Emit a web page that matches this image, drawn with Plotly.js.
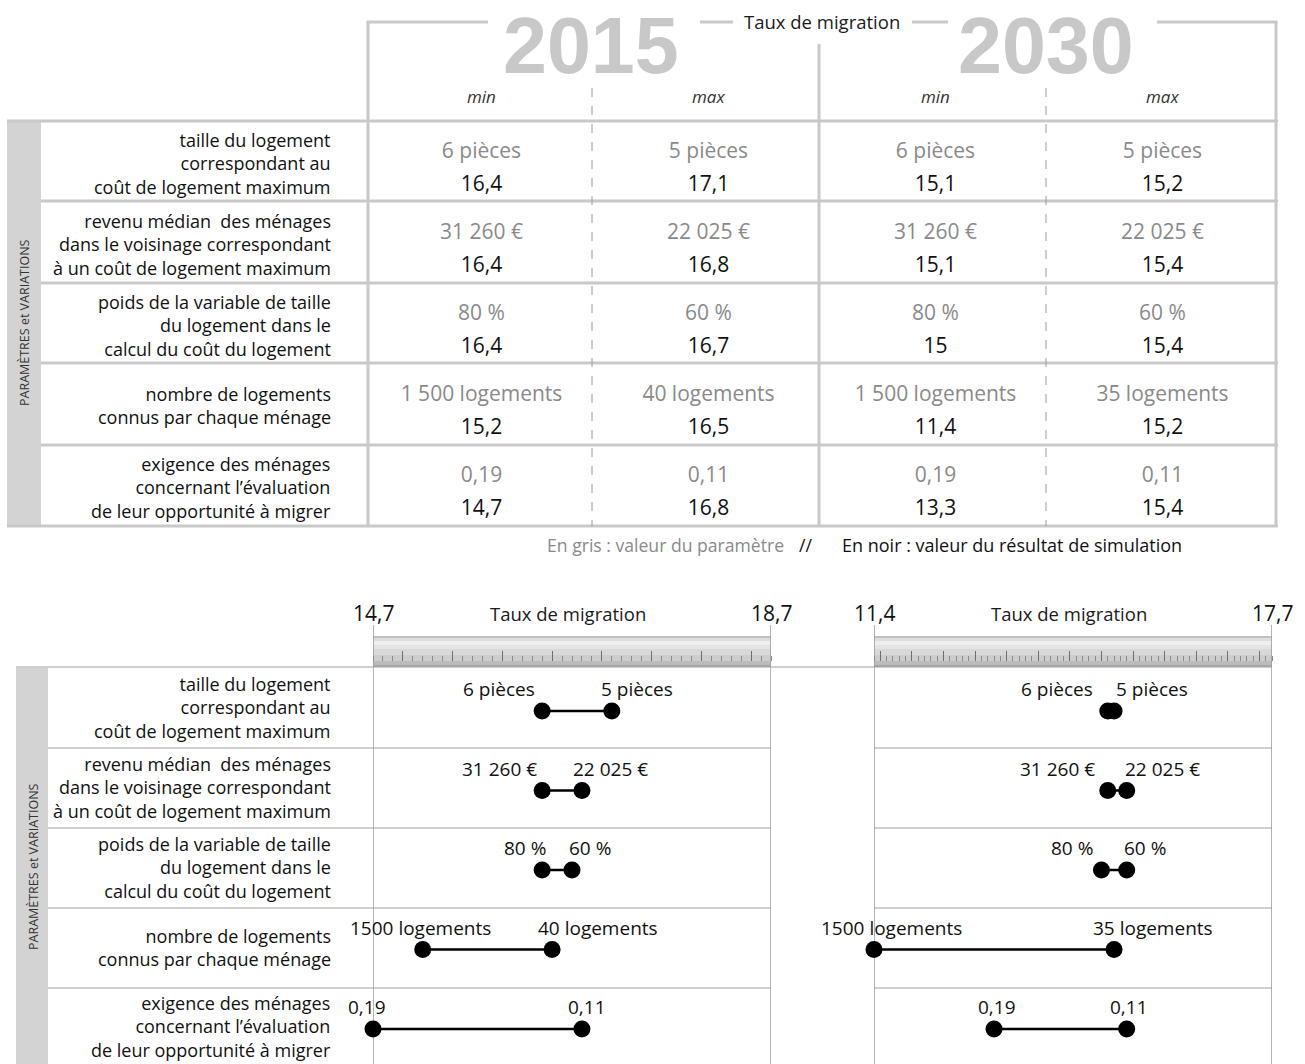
<!DOCTYPE html>
<html><head><meta charset="utf-8">
<script src="https://cdn.plot.ly/plotly-3.0.1.min.js"></script>
<style>html,body{margin:0;padding:0;background:#fff;}#chart{width:1305px;height:1064px;}</style>
</head><body><div id="chart"></div>
<script>
// ---------------- DATA ----------------
const parameters = [
  'taille du logement<br>correspondant au<br>coût de logement maximum',
  'revenu médian  des ménages<br>dans le voisinage correspondant<br>à un coût de logement maximum',
  'poids de la variable de taille<br>du logement dans le<br>calcul du coût du logement',
  'nombre de logements<br>connus par chaque ménage',
  'exigence des ménages<br>concernant l’évaluation<br>de leur opportunité à migrer'
];
const years = ['2015', '2030'];
const columnHeaders = ['min', 'max', 'min', 'max'];
const paramMin      = ['6 pièces', '31 260 €', '80 %', '1 500 logements', '0,19'];
const paramMax2015  = ['5 pièces', '22 025 €', '60 %', '40 logements', '0,11'];
const paramMax2030  = ['5 pièces', '22 025 €', '60 %', '35 logements', '0,11'];
const dotLabelMin     = ['6 pièces', '31 260 €', '80 %', '1500 logements', '0,19'];
const dotLabelMax2015 = ['5 pièces', '22 025 €', '60 %', '40 logements', '0,11'];
const dotLabelMax2030 = ['5 pièces', '22 025 €', '60 %', '35 logements', '0,11'];
const rate2015Min = [16.4, 16.4, 16.4, 15.2, 14.7];
const rate2015Max = [17.1, 16.8, 16.7, 16.5, 16.8];
const rate2030Min = [15.1, 15.1, 15, 11.4, 13.3];
const rate2030Max = [15.2, 15.4, 15.4, 15.2, 15.4];
const range2015 = [14.7, 18.7];
const range2030 = [11.4, 17.7];
const axisTitle = 'Taux de migration';
const sideTitle = 'PARAMÈTRES et VARIATIONS';
const legendGray = 'En gris : valeur du paramètre';
const legendSep = '//';
const legendBlack = 'En noir : valeur du résultat de simulation';

// ---------------- STYLE ----------------
const W = 1305, H = 1064;
const FONT = 'Open Sans, sans-serif';
const GRID = '#c9c9c9';
const GRAYTXT = '#8a8a8a';
const BAR = '#d3d3d3';
const LABEL = '#111';
const px = x => x / W;
const py = y => 1 - y / H;
const fmt = v => String(v).replace('.', ',');
// label offsets (pixels) for the dumbbell labels
const labelShift = {
  min2015: [-43, -43, -17, -2, -6],
  max2015: [25, 29, 18, 46, 5],
  min2030: [-51, -50, -29, 17, 3],
  max2030: [38, 36, 18, 39, 2]
};

const shapes = [];
function hline(x0, x1, y, color, width, dash) {
  shapes.push({type: 'line', xref: 'paper', yref: 'paper', layer: 'below',
    x0: px(x0), x1: px(x1), y0: py(y), y1: py(y), line: {color, width, dash: dash || 'solid'}});
}
function vline(x, y0, y1, color, width, dash) {
  shapes.push({type: 'line', xref: 'paper', yref: 'paper', layer: 'below',
    x0: px(x), x1: px(x), y0: py(y0), y1: py(y1), line: {color, width, dash: dash || 'solid'}});
}
function rect(x0, x1, y0, y1, fill) {
  shapes.push({type: 'rect', xref: 'paper', yref: 'paper', layer: 'below',
    x0: px(x0), x1: px(x1), y0: py(y1), y1: py(y0), fillcolor: fill, line: {width: 0}});
}

// ---- top table frame ----
rect(7, 41, 121, 526, BAR);
hline(7, 1278, 121, GRID, 3);
[201, 283, 363, 445].forEach(y => hline(41, 1278, y, GRID, 3));
hline(7, 1278, 526, GRID, 3);
vline(368, 22, 526, GRID, 3);
vline(819, 44, 526, GRID, 3);
vline(1276, 22, 526, GRID, 3);
hline(366.5, 488, 22, GRID, 3);
hline(700, 733, 22, GRID, 3);
hline(912, 948, 22, GRID, 3);
hline(1157, 1277.5, 22, GRID, 3);
vline(592, 88, 526, '#9a9a9a', 1, 'dash');
vline(1046, 88, 526, '#9a9a9a', 1, 'dash');

// ---- bottom frame ----
rect(16, 48, 668, 1064, BAR);
hline(16, 1272, 667, '#cfcfcf', 2);
[748, 828, 908, 988].forEach(y => { hline(48, 771, y, '#cfcfcf', 2); hline(874, 1272, y, '#cfcfcf', 2); });

// rulers (gradient bands) on each dumbbell axis
const bands = [[636, 638, '#c2c2c2'], [638, 641, '#dedede'], [641, 645, '#efefef'], [645, 649, '#e4e4e4'],
               [649, 655, '#d8d8d8'], [655, 661, '#cdcdcd'], [661, 665, '#bcbcbc'], [665, 667, '#a6a6a6']];
[['x', range2015], ['x2', range2030]].forEach(([xr, rg]) => {
  bands.forEach(([a, b, c]) => shapes.push({type: 'rect', xref: xr, yref: 'paper', layer: 'below',
    x0: rg[0], x1: rg[1], y0: py(b), y1: py(a), fillcolor: c, line: {width: 0}}));
  rg.forEach(v => shapes.push({type: 'line', xref: xr, yref: 'paper', layer: 'below',
    x0: v, x1: v, y0: py(1064), y1: py(625), line: {color: '#9a9a9a', width: 1.5}}));
});

// ---------------- TRACES ----------------
const traces = [];
// top table values
const grayCols = [paramMin, paramMax2015, paramMin, paramMax2030];
const blackCols = [rate2015Min, rate2015Max, rate2030Min, rate2030Max];
const gx = [], gy = [], gt = [], bx = [], by = [], bt = [];
for (let j = 0; j < 4; j++) for (let i = 0; i < parameters.length; i++) {
  gx.push(j); gy.push(i + 0.39); gt.push(grayCols[j][i]);
  bx.push(j); by.push(i + 0.795); bt.push(fmt(blackCols[j][i]));
}
traces.push({type: 'scatter', mode: 'text', x: gx, y: gy, text: gt, xaxis: 'x3', yaxis: 'y3',
  textfont: {family: FONT, size: 21, color: GRAYTXT}, hoverinfo: 'skip', showlegend: false, cliponaxis: false});
traces.push({type: 'scatter', mode: 'text', x: bx, y: by, text: bt, xaxis: 'x3', yaxis: 'y3',
  textfont: {family: FONT, size: 21, color: '#111'}, hoverinfo: 'skip', showlegend: false, cliponaxis: false});

// dumbbells
function dumbbell(mins, maxs, xa, ya) {
  const xs = [], ys = [];
  mins.forEach((m, i) => { xs.push(m, maxs[i], null); ys.push(i, i, null); });
  return {type: 'scatter', mode: 'lines+markers', x: xs, y: ys, xaxis: xa, yaxis: ya,
    line: {color: '#000', width: 2.5}, marker: {size: 17, color: '#000'},
    cliponaxis: false, showlegend: false, hoverinfo: 'skip'};
}
traces.push(dumbbell(rate2015Min, rate2015Max, 'x', 'y'));
traces.push(dumbbell(rate2030Min, rate2030Max, 'x2', 'y2'));

// ---------------- ANNOTATIONS ----------------
const ann = [];
function txt(o) { ann.push(Object.assign({showarrow: false, font: {family: FONT, size: 18, color: LABEL}}, o)); }

// year headers
years.forEach((yr, k) => txt({xref: 'paper', yref: 'paper', x: px([591, 1046][k]), y: 1, text: yr,
  xanchor: 'center', yanchor: 'top', borderpad: 0,
  font: {family: 'Liberation Sans, Arial, sans-serif', size: 79, color: '#c8c8c8', weight: 700}}));
txt({xref: 'paper', yref: 'paper', x: px(822), y: py(21), text: axisTitle, xanchor: 'center', yanchor: 'middle',
  font: {family: FONT, size: 18.5, color: '#1a1a1a'}});
// column headers
columnHeaders.forEach((h, j) => txt({xref: 'x3', yref: 'paper', x: j, y: py(97), text: h, xanchor: 'center', yanchor: 'middle',
  font: {family: FONT, size: 17, color: '#333', style: 'italic'}}));
// row labels
function rowLabels(bounds, shift) {
  parameters.forEach((p, i) => txt({xref: 'paper', yref: 'paper', x: px(333),
    y: py((bounds[i] + bounds[i + 1]) / 2 + shift), text: p, xanchor: 'right', yanchor: 'middle', align: 'right'}));
}
rowLabels([121, 201, 283, 363, 445, 526], 2);
rowLabels([668, 748, 828, 908, 988, 1066], -1);
// side titles
txt({xref: 'paper', yref: 'paper', x: px(24), y: py(323), text: sideTitle, textangle: -90, xanchor: 'center', yanchor: 'middle',
  font: {family: FONT, size: 12.5, color: '#333'}});
txt({xref: 'paper', yref: 'paper', x: px(33), y: py(867), text: sideTitle, textangle: -90, xanchor: 'center', yanchor: 'middle',
  font: {family: FONT, size: 12.5, color: '#333'}});
// legend line
txt({xref: 'paper', yref: 'paper', x: px(786), y: py(545), text: legendGray, xanchor: 'right', yanchor: 'middle',
  font: {family: FONT, size: 17.6, color: GRAYTXT}});
txt({xref: 'paper', yref: 'paper', x: px(805), y: py(545), text: legendSep, xanchor: 'center', yanchor: 'middle',
  font: {family: FONT, size: 17.6, color: '#111'}});
txt({xref: 'paper', yref: 'paper', x: px(840), y: py(545), text: legendBlack, xanchor: 'left', yanchor: 'middle',
  font: {family: FONT, size: 18, color: '#111'}});
// axis end labels & titles
[['x', range2015], ['x2', range2030]].forEach(([xr, rg]) => {
  rg.forEach(v => txt({xref: xr, yref: 'paper', x: v, y: py(613), text: fmt(v), xanchor: 'center', yanchor: 'middle',
    font: {family: FONT, size: 21, color: '#111'}}));
  txt({xref: xr + ' domain', yref: 'paper', x: 0.5, xshift: -4, y: py(613), text: axisTitle, xanchor: 'center', yanchor: 'middle',
    font: {family: FONT, size: 18.5, color: '#1a1a1a'}});
});
// dumbbell labels
function dotLabels(vals, labels, shifts, xr, yr) {
  vals.forEach((v, i) => txt({xref: xr, yref: yr, x: v, y: i, yshift: 22, xshift: shifts[i], text: labels[i],
    xanchor: 'center', yanchor: 'middle', font: {family: FONT, size: 19, color: '#111'}}));
}
dotLabels(rate2015Min, dotLabelMin, labelShift.min2015, 'x', 'y');
dotLabels(rate2015Max, dotLabelMax2015, labelShift.max2015, 'x', 'y');
dotLabels(rate2030Min, dotLabelMin, labelShift.min2030, 'x2', 'y2');
dotLabels(rate2030Max, dotLabelMax2030, labelShift.max2030, 'x2', 'y2');

// ---------------- AXES ----------------
function rulerAxis(rg, dom) {
  return {domain: dom, range: rg, anchor: 'free', position: py(661), side: 'top',
    showgrid: false, zeroline: false, showline: false, showticklabels: false,
    ticks: 'outside', tick0: 15, dtick: 0.5, ticklen: 10, tickwidth: 1, tickcolor: '#6e6e6e',
    minor: {ticks: 'outside', tick0: 15, dtick: 0.1, ticklen: 5, tickwidth: 1, tickcolor: '#8a8a8a', showgrid: false},
    fixedrange: true};
}
const dotYRange = [(1064 - 711) / 79.5, (668 - 711) / 79.5];
const layout = {
  width: W, height: H,
  margin: {l: 0, r: 0, t: 0, b: 0, pad: 0},
  paper_bgcolor: '#fff', plot_bgcolor: 'rgba(0,0,0,0)',
  showlegend: false,
  xaxis: rulerAxis(range2015, [px(373), px(771)]),
  xaxis2: rulerAxis(range2030, [px(874), px(1272)]),
  yaxis: {domain: [0, py(668)], range: dotYRange, anchor: 'x', visible: false, fixedrange: true},
  yaxis2: {domain: [0, py(668)], range: dotYRange, anchor: 'x2', visible: false, fixedrange: true},
  xaxis3: {domain: [px(368), px(1276)], range: [-0.5, 3.5], anchor: 'y3', visible: false, fixedrange: true},
  yaxis3: {domain: [py(526), py(121)], range: [5, 0], anchor: 'x3', visible: false, fixedrange: true},
  shapes: shapes,
  annotations: ann,
  font: {family: FONT}
};
Plotly.newPlot('chart', traces, layout, {displayModeBar: false, staticPlot: true});
</script>
</body></html>
